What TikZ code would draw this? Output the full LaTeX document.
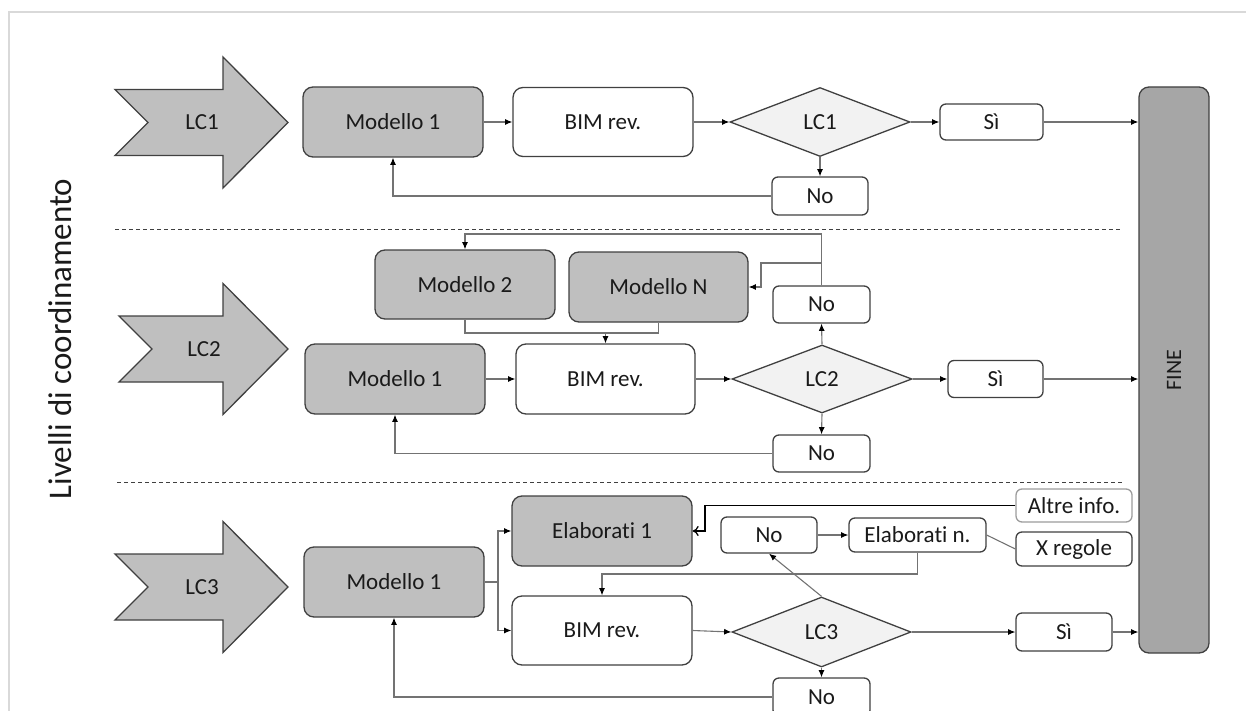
\documentclass[tikz,border=0pt]{standalone}
\usepackage{fontspec}
\setmainfont{Carlito}[Ligatures=NoCommon]
\usetikzlibrary{arrows.meta,shapes.geometric}

\definecolor{boxgray}{HTML}{BFBFBF}
\definecolor{finegray}{HTML}{A6A6A6}
\definecolor{decfill}{HTML}{F2F2F2}
\definecolor{edge}{HTML}{404040}
\definecolor{wire}{HTML}{737373}
\definecolor{framegray}{HTML}{D9D9D9}
\definecolor{ink}{HTML}{1A1A1A}

\tikzset{
  sz/.style 2 args={minimum width=#1*0.5pt, minimum height=#2*0.5pt},
  lbl/.style={font=\fontsize{11.5}{13}\selectfont, text=ink},
  base/.style={draw=edge, line width=0.65pt, rounded corners=5pt, inner sep=0pt, lbl},
  model/.style={base, fill=boxgray},
  plain/.style={base, fill=white},
  tag/.style={base, fill=white, rounded corners=3pt},
  decision/.style={diamond, draw=edge, line width=0.65pt, fill=decfill, inner sep=0pt, lbl},
  chevron/.style={draw=edge, line width=0.65pt, fill=boxgray},
  tip/.tip={Latex[length=3.6pt, width=3pt, color=black]},
  link/.style={draw=wire, line width=0.55pt, -tip},
  wireonly/.style={draw=wire, line width=0.55pt},
  sep/.style={draw=edge, line width=0.5pt, dash pattern=on 2pt off 1.5pt},
}

\begin{document}
\begin{tikzpicture}[x=0.5pt, y=-0.5pt]
  \useasboundingbox (0,0) rectangle (1246,711);

  % open frame
  \draw[framegray, line width=0.8pt] (1246,12) -- (9,12) -- (9,711);

  % vertical title
  \node[rotate=90, font=\fontsize{16.5}{18}\selectfont, text=ink] (title) at (60,339) {Livelli di coordinamento};

  % level chevrons: label / centre y / left x / label x
  \foreach \lab/\cy/\lx/\tx in {LC1/122.5/115/202, LC2/349/119/204, LC3/587/115/202}{
    \draw[chevron] (\lx,\cy-33) -- (223,\cy-33) -- (223,\cy-65.5) -- (288,\cy)
      -- (223,\cy+65.5) -- (223,\cy+33) -- (\lx,\cy+33) -- (\lx+33,\cy) -- cycle;
    \node[lbl] (\lab) at (\tx,\cy) {\lab};
  }

  % separators
  \draw[sep] (115,230) -- (1120,230);
  \draw[sep] (117,482) -- (1122,482);

  % end block
  \node[base, fill=finegray, sz={70}{566}] (fine) at (1174,370) {};
  \node[rotate=90, font=\fontsize{11}{13}\selectfont, text=ink] (finetxt) at (fine.center) {FINE};

  % ---- level 1
  \node[model, sz={180}{70}] (m11) at (393,122) {Modello 1};
  \node[plain, sz={180}{69}] (b1) at (603,122) {BIM rev.};
  \node[decision, sz={180}{69}] (d1) at (820,122) {LC1};
  \node[tag, sz={103}{36}] (s1) at (991.5,122) {Sì};
  \node[tag, sz={96}{38}] (n1) at (820,196) {No};

  \draw[link] (m11.east) -- (b1.west);
  \draw[link] (b1.east) -- (d1.west);
  \draw[link] (d1.east) -- (s1.west);
  \draw[link] (s1.east) -- (s1.east -| fine.west);
  \draw[link] (d1.south) -- (n1.north);
  \draw[link] (n1.west) -| (m11.south);

  % ---- level 2
  \node[model, sz={180}{69}] (m2) at (465,284.5) {Modello 2};
  \node[model, sz={179}{70}] (mN) at (658.5,287) {Modello N};
  \node[tag, sz={97}{37}] (nu2) at (821.5,304.5) {No};
  \node[model, sz={180}{70}] (m21) at (395,379) {Modello 1};
  \node[plain, sz={179}{70}] (b2) at (605.5,379) {BIM rev.};
  \node[decision, sz={180}{68}] (d2) at (822,379) {LC2};
  \node[tag, sz={95}{37}] (s2) at (995.5,379) {Sì};
  \node[tag, sz={97}{37}] (nl2) at (821.5,453.5) {No};

  \coordinate (top2) at (821.5,234);
  \coordinate (br2) at (821.5,263);
  \coordinate (k2) at (761,263);
  \coordinate (mg2) at (605.5,333);

  \draw[link] (m21.east) -- (b2.west);
  \draw[link] (b2.east) -- (d2.west);
  \draw[link] (d2.east) -- (s2.west);
  \draw[link] (s2.east) -- (s2.east -| fine.west);
  \draw[link] (d2.north) -- (nu2.south);
  \draw[link] (nu2.north) -- (top2) -| (m2.north);
  \draw[link] (br2) -- (k2) |- (mN.east);
  \draw[wireonly] (m2.south) |- (mg2) -| (mN.south);
  \draw[link] (mg2) -- (b2.north);
  \draw[link] (d2.south) -- (nl2.north);
  \draw[link] (nl2.west) -| (m21.south);

  % ---- level 3
  \node[model, sz={180}{70}] (e1) at (602,531) {Elaborati 1};
  \node[model, sz={180}{70}] (m31) at (394,582) {Modello 1};
  \node[plain, sz={180}{69}] (b3) at (602,630.5) {BIM rev.};
  \node[tag, sz={96}{36}] (nu3) at (769,535) {No};
  \node[tag, sz={137}{34}] (en) at (917.5,535) {Elaborati n.};
  \node[tag, draw=framegray!60!edge, sz={116}{33}] (ai) at (1074,505.5) {Altre info.};
  \node[tag, sz={116}{34}] (xr) at (1074,549) {X regole};
  \node[decision, sz={179}{70}] (d3) at (821.5,632) {LC3};
  \node[tag, sz={96}{38}] (s3) at (1064,632) {Sì};
  \node[tag, sz={97}{38}] (nl3) at (821.5,697) {No};

  \coordinate (fk) at (498,582);
  \coordinate (r3) at (917.5,574);
  \coordinate (k3) at (705,505.5);

  \draw[wireonly] (m31.east) -- (fk);
  \draw[link] (fk) |- (e1.west);
  \draw[link] (fk) |- (b3.west);
  \draw[link] (b3.east) -- (d3.west);
  \draw[link] (d3.east) -- (s3.west);
  \draw[link] (s3.east) -- (s3.east -| fine.west);
  \draw[link] (d3.north) -- (nu3.south);
  \draw[link] (nu3.east) -- (en.west);
  \draw[link] (en.south) -- (r3) -| (b3.north);
  \draw[wireonly] (en.east) -- (xr.west);
  \draw[draw=black, line width=0.6pt, -{To[length=3pt, width=5pt]}] (ai.west) -- (k3) |- (e1.east);
  \draw[link] (d3.south) -- (nl3.north);
  \draw[link] (nl3.west) -| (m31.south);
\end{tikzpicture}
\end{document}
